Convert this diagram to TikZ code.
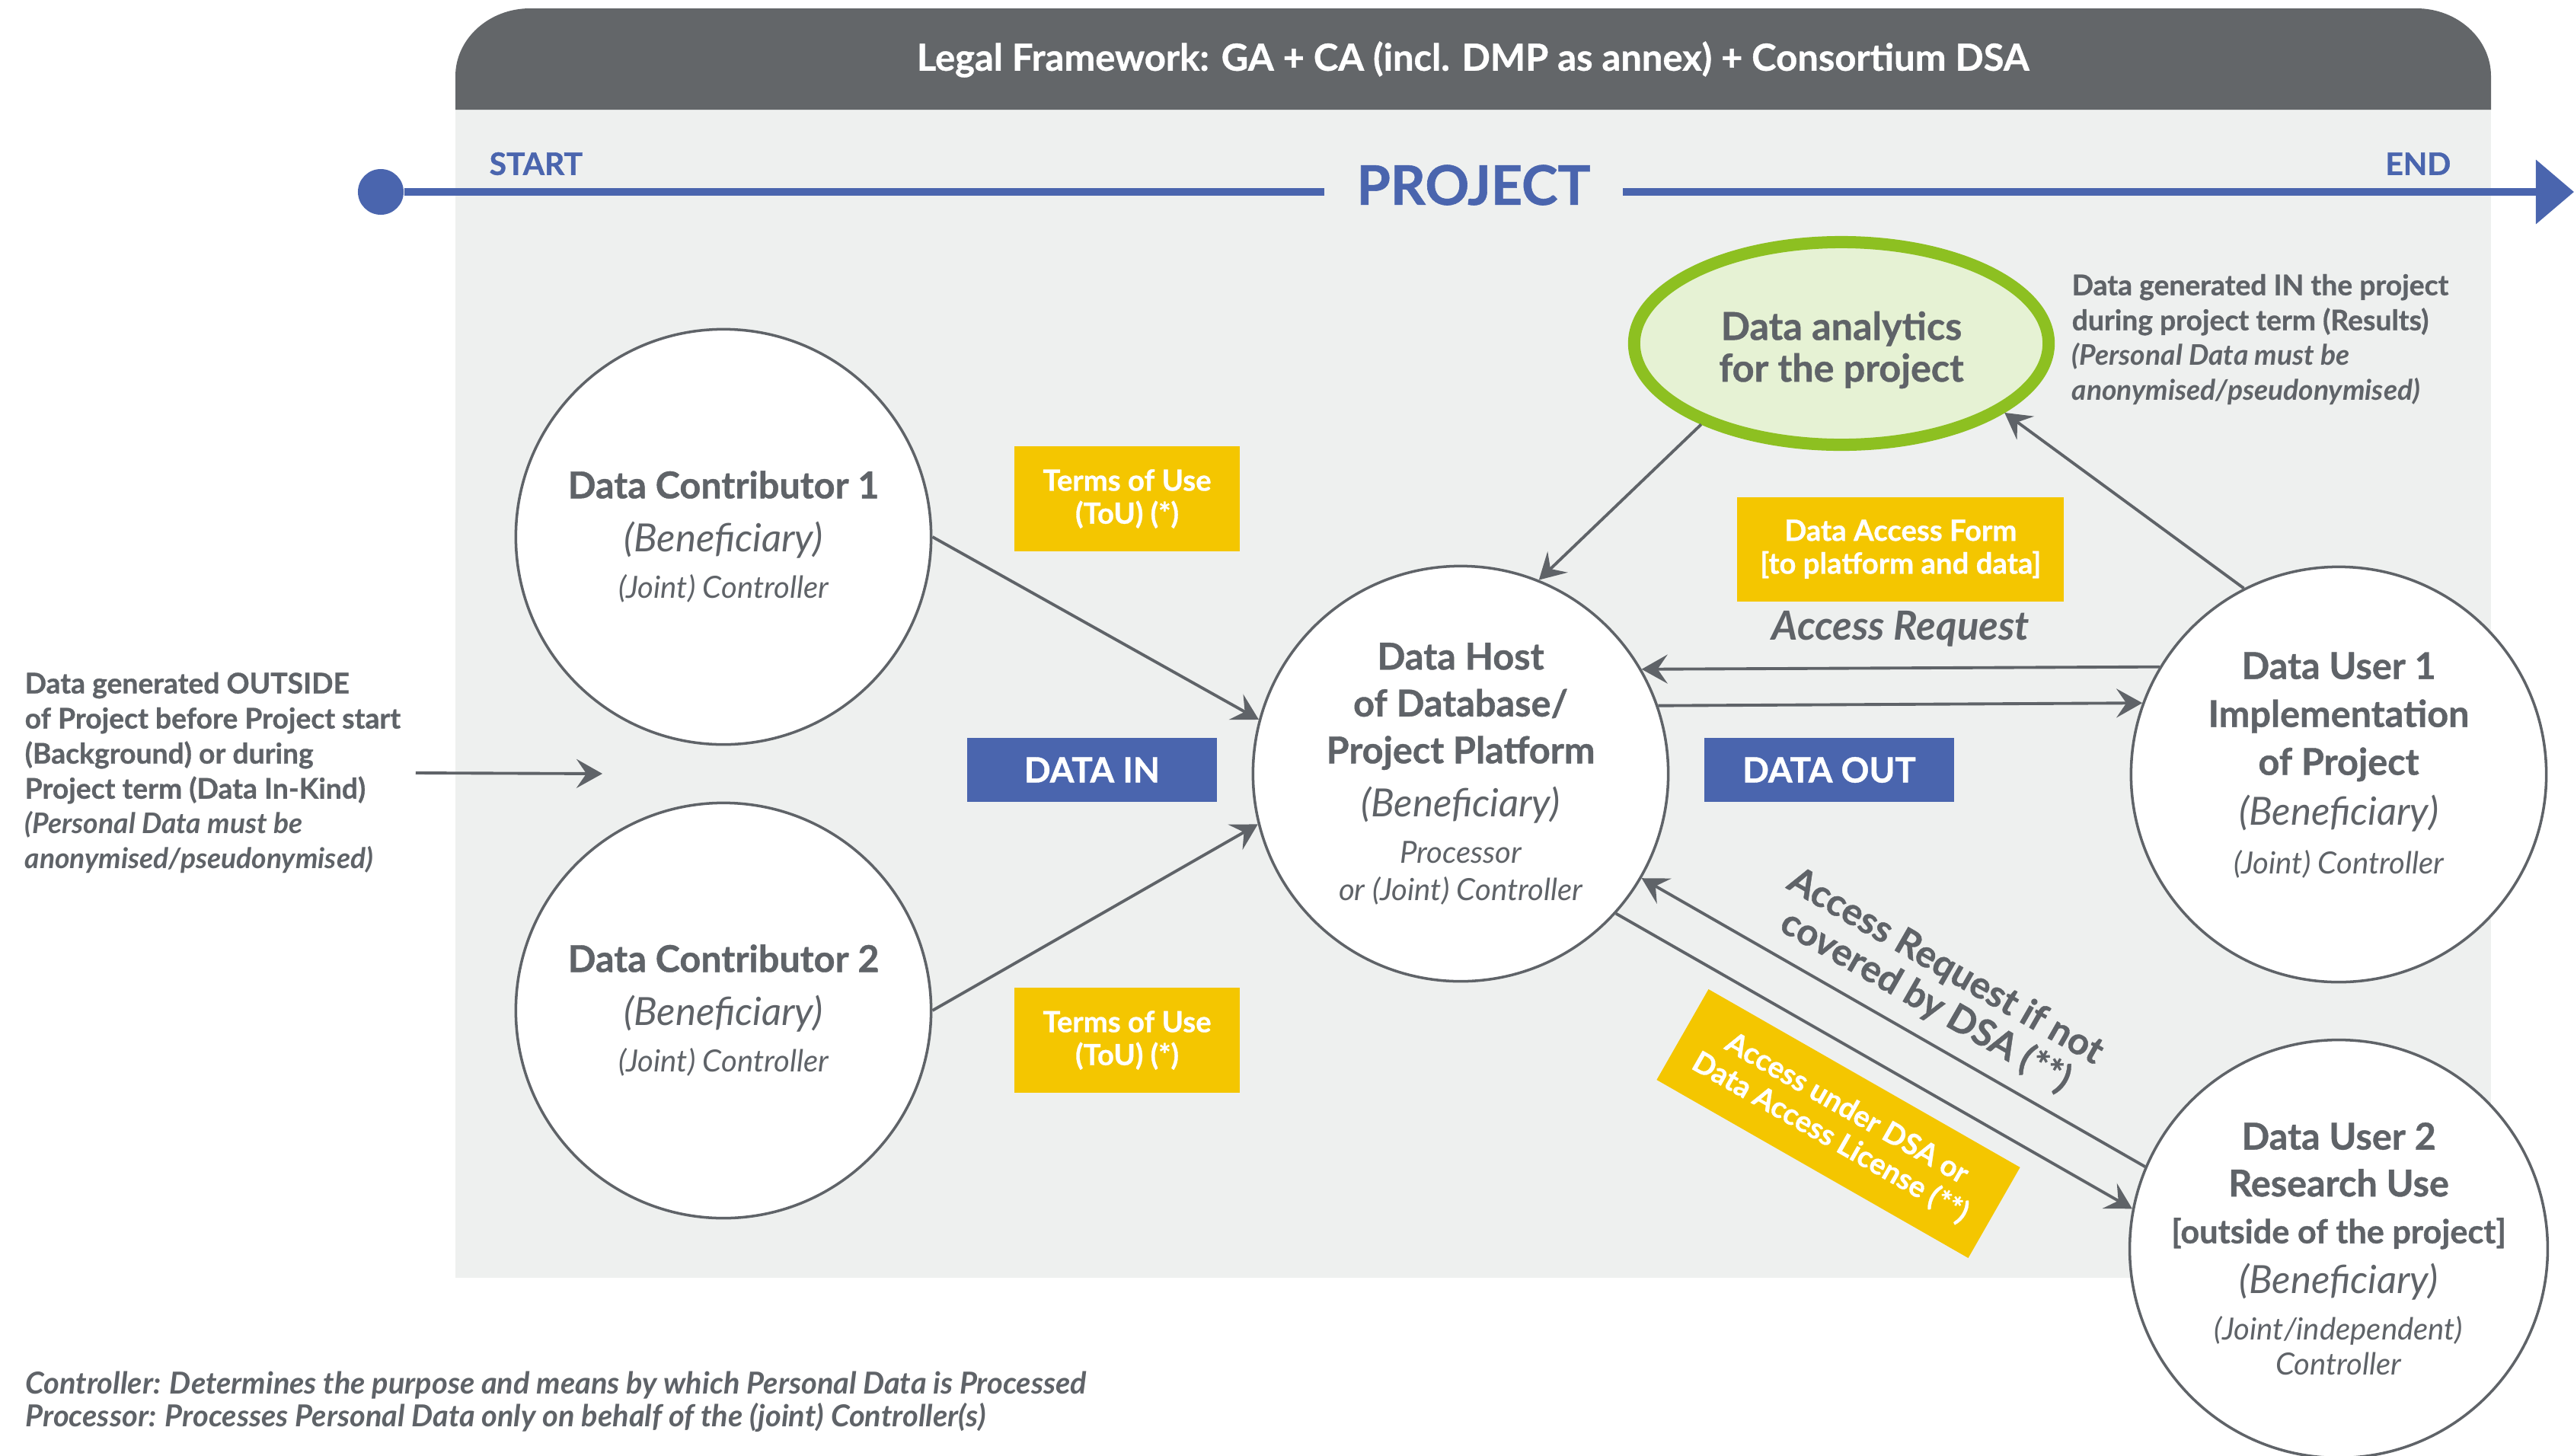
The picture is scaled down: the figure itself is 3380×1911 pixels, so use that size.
\documentclass[tikz,border=0pt]{standalone}
\usepackage{fontspec}
\setmainfont{Lato}[BoldFeatures={FakeBold=0.8}]
\usetikzlibrary{arrows.meta, positioning, shapes.geometric}
\definecolor{myink}{RGB}{95,99,104}
\definecolor{myheader}{RGB}{99,102,105}
\definecolor{mypanel}{RGB}{238,240,239}
\definecolor{myblue}{RGB}{74,101,174}
\definecolor{myyellow}{RGB}{244,198,0}
\definecolor{mygreen}{RGB}{141,192,33}
\definecolor{mylightgreen}{RGB}{230,242,212}
\newcommand{\fs}[2]{\fontsize{#1}{#2}\selectfont}
\newcommand{\who}[1]{{\bfseries\fs{13.8}{17.5}#1}}
\newcommand{\benef}{{\itshape\fs{14.5}{17.5}(Beneficiary)}}
\newcommand{\role}[1]{{\itshape\fs{11.4}{13}#1}}
\newcommand{\widthparty}{5.45cm}
\newcommand{\widthterms}{2.95cm}
\newcommand{\widthform}{4.29cm}
\newcommand{\widthlicense}{4.71cm}
\newcommand{\widthphase}{3.28cm}
\newcommand{\heightterms}{1.37cm}
\newcommand{\heightphase}{0.83cm}
\tikzset{
    party/.style={circle, draw=myink, fill=white, line width=1pt, minimum size=\widthparty, inner sep=0pt,
        align=center, text=myink, font=\fs{13.8}{17.5}},
    terms/.style={fill=myyellow, text=white, align=center, inner sep=0pt, font=\bfseries\fs{10.9}{12.3},
        minimum width=\widthterms, minimum height=\heightterms},
    phase/.style={fill=myblue, text=white, inner sep=0pt, font=\bfseries\fs{13}{15},
        minimum width=\widthphase, minimum height=\heightphase},
    flow/.style={draw=myink, line width=1.1pt, -{Stealth[length=3.4mm, width=3.8mm, inset=1.3mm]}},
    sidenote/.style={anchor=west, align=left, inner sep=0pt, text=myink, font=\bfseries\fs{10.6}{13.1}},
    timeline/.style={draw=myblue, line width=3.1pt},
    startdot/.style={circle, fill=myblue, minimum size=0.6cm, inner sep=0pt},
    milestone/.style={text=myblue, inner sep=0pt, font=\bfseries\fs{11.6}{13}}
}
\begin{document}
\begin{tikzpicture}[x=0.01cm, y=-0.01cm]
    \useasboundingbox (0,0) rectangle (3380,1911);

    % project frame with the legal header
    \fill[mypanel] (598,144) rectangle (3271,1678);
    \fill[myheader] (598,144) -- (598,100) .. controls (598,51) and (642,11) .. (696,11)
        -- (3173,11) .. controls (3227,11) and (3271,51) .. (3271,100) -- (3271,144) -- cycle;
    \node[font=\bfseries\fs{13.9}{16}, text=white] (legal) at (1934,78)
        {Legal Framework: GA + CA (incl. DMP as annex) + Consortium DSA};

    % timeline
    \node[startdot] (start) at (500,252) {};
    \coordinate (end) at (3380,252);
    \node[font=\bfseries\fs{20.4}{24}, text=myblue, inner xsep=0.42cm, inner ysep=0pt] (project) at (1935,243) {PROJECT};
    \draw[timeline] (start) -- (start -| project.west);
    \draw[timeline, -{Triangle[length=0.5cm, width=0.82cm]}] (start -| project.east) -- (end);
    \node[milestone, anchor=west] (startlabel) at (642,215) {START};
    \node[milestone, anchor=east] (endlabel) at (3219,215) {END};

    % parties
    \node[party] (c1) at (950,705) {\who{Data Contributor 1}\\[2.4pt]\benef\\\role{(Joint) Controller}};
    \node[party] (c2) at (950,1327) {\who{Data Contributor 2}\\[2.4pt]\benef\\\role{(Joint) Controller}};
    \node[party] (dh) at (1918,1016) {\who{Data Host}\\\who{of Database/}\\\who{Project Platform}\\[2.4pt]\benef\\
        \role{Processor}\\[-3.8pt]\role{or (Joint) Controller}};
    \node[party] (du1) at (3071,1017) {\who{Data User 1}\\[0.4pt]\who{Implementation}\\[0.4pt]\who{of Project}\\[1.2pt]\benef\\[0.8pt]
        \role{(Joint) Controller}\rule[-8.5pt]{0pt}{0pt}};
    \node[party] (du2) at (3071,1640) {\who{Data User 2}\\\who{Research Use}\\{\bfseries\fs{12.3}{17.5}[outside of the project]}\\[1.2pt]
        \benef\\\role{(Joint/independent)}\\[-4.5pt]\role{Controller}};
    \node[ellipse, draw=mygreen, line width=0.16cm, fill=mylightgreen, minimum width=5.44cm, minimum height=2.66cm,
        inner sep=0pt, align=center, text=myink, font=\bfseries\fs{14.3}{15.6}] (analytics) at (2418,451)
        {\rule{0pt}{15.5pt}Data analytics\\for the project};

    % side notes
    \node[sidenote] (outside) at (32,1015) {Data generated OUTSIDE\\of Project before Project start\\(Background) or during\\
        Project term (Data In-Kind)\\{\itshape (Personal Data must be}\\{\itshape anonymised/pseudonymised)}};
    \node[sidenote] (results) at (2720,446) {Data generated IN the project\\during project term (Results)\\
        {\itshape (Personal Data must be}\\{\itshape anonymised/pseudonymised)}};
    \node[sidenote, font=\bfseries\itshape\fs{11.3}{12.3}] (legend) at (33,1841)
        {Controller: Determines the purpose and means by which Personal Data is Processed\\
         Processor: Processes Personal Data only on behalf of the (joint) Controller(s)};

    % agreements
    \node[terms] (tou1) at (1480,655) {Terms of Use\\(ToU) (*)};
    \node[terms] (tou2) at (1480,1366) {Terms of Use\\(ToU) (*)};
    \node[phase] (datain) at (1434,1011) {DATA IN};
    \node[phase] (dataout) at (2402,1011) {DATA OUT};

    % data flows
    \coordinate (inkind) at (791,1016);
    \draw[flow] ([xshift=0.19cm]outside.east) -- (inkind);
    \draw[flow] (c1.east) -- (dh.165.7);
    \draw[flow] (c2.east) -- (dh.194.4);
    \draw[flow] (analytics.210.3) -- (dh.68.7);
    \draw[flow] (du1.117.9) -- (analytics.337.3);
    \draw[flow] (du1.149.6) -- node[above=0.26cm, inner sep=0pt, text=myink, font=\bfseries\itshape\fs{15}{17}] (areq)
        {Access Request} (dh.30.2);
    \draw[flow] (dh.19.6) -- (du1.160.2);
    \node[terms, minimum width=\widthform, above=0.1cm of areq] (form) {Data Access Form\\{[to platform and data]}};
    \draw[flow] (du2.157.4) -- node[sloped, pos=0.47, above=0.2cm, inner sep=0pt, align=center, text=myink,
        font=\bfseries\fs{14}{15}] (dsareq) {Access Request if not\\covered by DSA (**)} (dh.330.1);
    \draw[flow] (dh.318.2) -- node[sloped, midway, below=0.24cm, terms, font=\bfseries\fs{11}{12.5},
        minimum width=\widthlicense] (license) {Access under DSA or\\Data Access License (**)} (du2.169.3);
\end{tikzpicture}
\end{document}
